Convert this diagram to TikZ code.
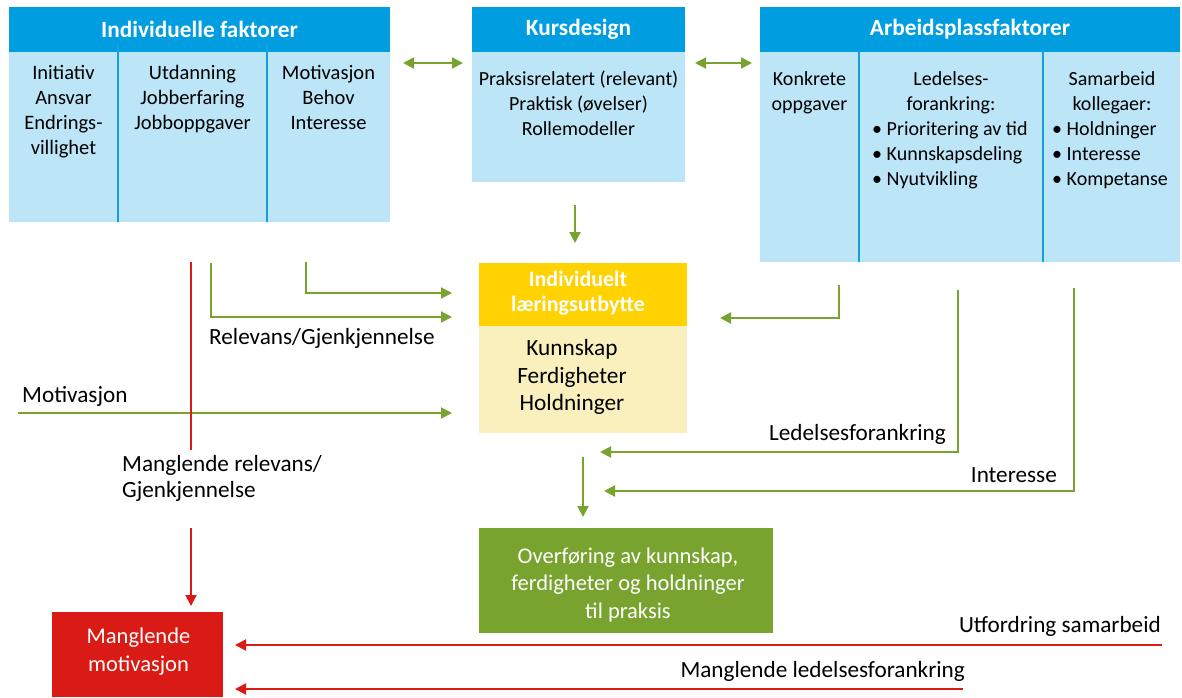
\documentclass[tikz,border=0pt]{standalone}
\usepackage{fontspec}
\setmainfont{Carlito}
\usetikzlibrary{arrows.meta}
\definecolor{hdrblue}{RGB}{0,158,224}
\definecolor{lightblue}{RGB}{189,229,248}
\definecolor{divblue}{RGB}{20,160,220}
\definecolor{mygreen}{RGB}{119,163,46}
\definecolor{myred}{RGB}{218,26,20}
\definecolor{myyellow}{RGB}{255,210,0}
\definecolor{paleyellow}{RGB}{250,240,190}
\begin{document}
\begin{tikzpicture}[x=1pt,y=-1pt,
  hdr/.style={fill=hdrblue,text=white,font=\fontsize{23.3}{27}\selectfont\bfseries,inner sep=0pt,outer sep=0pt,minimum height=45pt,anchor=north west},
  bodybox/.style={inner sep=0pt,outer sep=0pt,anchor=north west},
  coltxt/.style={font=\fontsize{20.5}{25}\selectfont,align=center,inner sep=0pt,anchor=north},
  smtxt/.style={font=\fontsize{20}{25}\selectfont,align=center,inner sep=0pt,anchor=north},
  bultxt/.style={font=\fontsize{20}{25}\selectfont,align=left,inner sep=0pt,anchor=north west},
  bigtxt/.style={font=\fontsize{22.5}{27.5}\selectfont,align=center,inner sep=0pt},
  divline/.style={draw=divblue,line width=2pt},
  garrow/.style={draw=mygreen,line width=2pt,-{Triangle[length=11pt,width=11pt]}},
  gdarrow/.style={draw=mygreen,line width=2pt,{Triangle[length=11pt,width=11pt]}-{Triangle[length=11pt,width=11pt]}},
  rline/.style={draw=myred,line width=2pt},
  rarrow/.style={draw=myred,line width=2pt,-{Triangle[length=11pt,width=11pt]}},
  lbl/.style={font=\fontsize{23.2}{26}\selectfont,inner sep=0pt},
]
\useasboundingbox (0,0) rectangle (1182,697);

% --- top boxes
\node[hdr,minimum width=381pt] (indH) at (9,7) {Individuelle faktorer};
\node[bodybox,fill=lightblue,minimum width=381pt,minimum height=170pt] (indB) at (9,52) {};
\node[hdr,minimum width=213pt] (kurH) at (472,7) {Kursdesign};
\node[bodybox,fill=lightblue,minimum width=213pt,minimum height=130pt] (kurB) at (472,52) {};
\node[hdr,minimum width=420pt] (arbH) at (760,7) {Arbeidsplassfaktorer};
\node[bodybox,fill=lightblue,minimum width=420pt,minimum height=210pt] (arbB) at (760,52) {};

\draw[divline] (118,44) -- (118,222);
\draw[divline] (267,44) -- (267,222);
\draw[divline] (859,52) -- (859,262);
\draw[divline] (1043,52) -- (1043,262);

\node[coltxt] (ind1) at (63.5,65) {Initiativ\\Ansvar\\Endrings-\\villighet};
\node[coltxt] (ind2) at (192.5,65) {Utdanning\\Jobberfaring\\Jobboppgaver};
\node[coltxt] (ind3) at (328.5,65) {Motivasjon\\Behov\\Interesse};
\node[smtxt] (kur1) at (578.5,71) {Praksisrelatert (relevant)\\Praktisk (øvelser)\\Rollemodeller};
\node[smtxt] (arb1) at (809.5,71) {Konkrete\\oppgaver};
\node[smtxt] (arb2) at (951,71) {Ledelses-\\forankring:};
\node[bultxt] (arb2b) at (872,121) {• Prioritering av tid\\• Kunnskapsdeling\\• Nyutvikling};
\node[smtxt] (arb3) at (1112,71) {Samarbeid\\kollegaer:};
\node[bultxt] (arb3b) at (1052,121) {• Holdninger\\• Interesse\\• Kompetanse};

% --- middle box
\node[bodybox,fill=myyellow,minimum width=208pt,minimum height=63pt] (ilH) at (479,263) {};
\node[bodybox,fill=paleyellow,minimum width=208pt,minimum height=107pt] (ilB) at (479,326) {};
\node[font=\fontsize{22}{25}\selectfont\bfseries,text=white,align=center,inner sep=0pt] (ilHt) at (578,293) {Individuelt\\læringsutbytte};
\node[font=\fontsize{23.3}{27.5}\selectfont,align=center,inner sep=0pt] (ilBt) at (572,377) {Kunnskap\\Ferdigheter\\Holdninger};

% --- bottom boxes
\node[bodybox,fill=mygreen,minimum width=294pt,minimum height=105pt] (ovB) at (479,528) {};
\node[bigtxt,text=white] (ovT) at (628,584.5) {Overføring av kunnskap,\\ferdigheter og holdninger\\til praksis};
\node[bodybox,fill=myred,minimum width=171pt,minimum height=85pt] (mmB) at (52,612) {};
\node[bigtxt,text=white] (mmT) at (138.5,651.5) {Manglende\\motivasjon};

% --- coordinates
\coordinate (d1a) at (403,63); \coordinate (d1b) at (463,63);
\coordinate (d2a) at (695,63); \coordinate (d2b) at (752,63);
\coordinate (kd1) at (575,205); \coordinate (kd2) at (575,243);
\coordinate (r1s) at (211,263); \coordinate (r1e) at (452,317);
\coordinate (r2s) at (306,262); \coordinate (r2e) at (452,293);
\coordinate (ms) at (18,413); \coordinate (me) at (452,413);
\coordinate (rl1) at (191,262); \coordinate (rl2) at (191,450);
\coordinate (ra1) at (191,528); \coordinate (ra2) at (191,606);
\coordinate (k1s) at (839,285); \coordinate (k1e) at (720,318);
\coordinate (l1s) at (958,290); \coordinate (l1e) at (600,452);
\coordinate (i1s) at (1074,288); \coordinate (i1e) at (604,491);
\coordinate (od1) at (583,457); \coordinate (od2) at (583,517);
\coordinate (us) at (1162,645); \coordinate (ue) at (235,645);
\coordinate (mls) at (963,689); \coordinate (mle) at (235,689);

% --- connectors
\draw[gdarrow] (d1a) -- (d1b);
\draw[gdarrow] (d2a) -- (d2b);
\draw[garrow] (kd1) -- (kd2);
\draw[garrow] (r1s) |- (r1e);
\draw[garrow] (r2s) |- (r2e);
\draw[garrow] (ms) -- (me);
\draw[rline] (rl1) -- (rl2);
\draw[rarrow] (ra1) -- (ra2);
\draw[garrow] (k1s) |- (k1e);
\draw[garrow] (l1s) |- (l1e);
\draw[garrow] (i1s) |- (i1e);
\draw[garrow] (od1) -- (od2);
\draw[rarrow] (us) -- (ue);
\draw[rarrow] (mls) -- (mle);

% --- labels
\node[lbl,anchor=base west] (lRel) at (209,344) {Relevans/Gjenkjennelse};
\node[lbl,anchor=base west] (lMot) at (22,402) {Motivasjon};
\node[lbl,anchor=north west,align=left] (lMr) at (122,455) {Manglende relevans/\\Gjenkjennelse};
\node[lbl,anchor=base east] (lLed) at (946,440) {Ledelsesforankring};
\node[lbl,anchor=base east] (lInt) at (1057,482) {Interesse};
\node[lbl,anchor=base east] (lUtf) at (1161,632) {Utfordring samarbeid};
\node[lbl,anchor=base east] (lMl) at (965,677) {Manglende ledelsesforankring};
\end{tikzpicture}
\end{document}
